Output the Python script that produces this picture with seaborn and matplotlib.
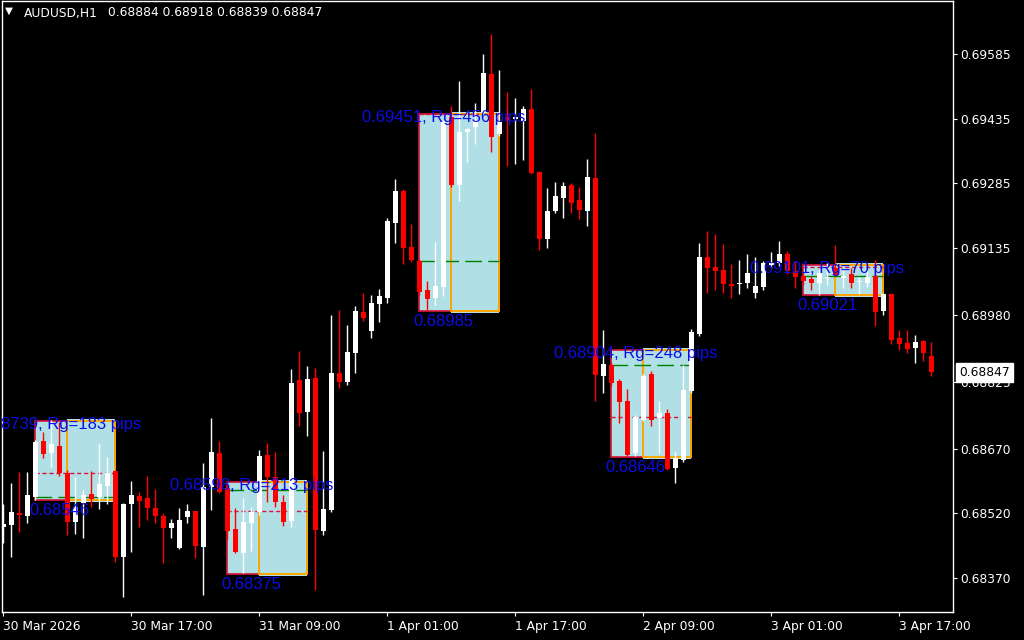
import numpy as np
import pandas as pd
import matplotlib
matplotlib.use("Agg")
import matplotlib.pyplot as plt
import matplotlib.transforms as mtransforms
from matplotlib.patches import Rectangle
import seaborn as sns

# ---------------- data ----------------
symbol_title = "AUDUSD,H1"
header_ohlc = "0.68884 0.68918 0.68839 0.68847"

opens = [0.68488, 0.68493, 0.68521, 0.68514, 0.68558, 0.68688, 0.68660, 0.68676, 0.68614, 0.68500,
         0.68544, 0.68565, 0.68558, 0.68583, 0.68618, 0.68419, 0.68542, 0.68560, 0.68556, 0.68532,
         0.68514, 0.68486, 0.68440, 0.68511, 0.68525, 0.68442, 0.68581, 0.68660, 0.68579, 0.68484,
         0.68428, 0.68498, 0.68523, 0.68655, 0.68604, 0.68546, 0.68502, 0.68829, 0.68755, 0.68834,
         0.68479, 0.68528, 0.68845, 0.68825, 0.68892, 0.68987, 0.68943, 0.69005, 0.69019, 0.69193,
         0.69267, 0.69138, 0.69105, 0.69038, 0.69019, 0.69045, 0.69439, 0.69281, 0.69404, 0.69416,
         0.69448, 0.69539, 0.69400, 0.69439, 0.69434, 0.69430, 0.69458, 0.69311, 0.69156, 0.69221,
         0.69251, 0.69281, 0.69247, 0.69221, 0.69298, 0.68838, 0.68864, 0.68827, 0.68780, 0.68660,
         0.68736, 0.68843, 0.68741, 0.68753, 0.68625, 0.68644, 0.68804, 0.68936, 0.69114, 0.69091,
         0.69084, 0.69052, 0.69051, 0.69054, 0.69031, 0.69045, 0.69096, 0.69100, 0.69121, 0.69082,
         0.69070, 0.69063, 0.69054, 0.69066, 0.69089, 0.69066, 0.69075, 0.69056, 0.69054, 0.69070,
         0.68989, 0.69029, 0.68927, 0.68915, 0.68903, 0.68920, 0.68884]
highs = [0.68542, 0.68590, 0.68616, 0.68616, 0.68690, 0.68709, 0.68736, 0.68732, 0.68620, 0.68604,
         0.68574, 0.68618, 0.68681, 0.68651, 0.68620, 0.68544, 0.68595, 0.68569, 0.68607, 0.68576,
         0.68521, 0.68507, 0.68532, 0.68542, 0.68526, 0.68637, 0.68741, 0.68688, 0.68588, 0.68532,
         0.68556, 0.68535, 0.68667, 0.68683, 0.68662, 0.68562, 0.68855, 0.68896, 0.68862, 0.68857,
         0.68665, 0.68980, 0.68991, 0.68957, 0.69001, 0.69031, 0.69026, 0.69040, 0.69205, 0.69295,
         0.69272, 0.69191, 0.69110, 0.69059, 0.69149, 0.69432, 0.69464, 0.69522, 0.69413, 0.69471,
         0.69585, 0.69631, 0.69548, 0.69497, 0.69483, 0.69464, 0.69504, 0.69314, 0.69274, 0.69288,
         0.69288, 0.69286, 0.69277, 0.69342, 0.69402, 0.68945, 0.68871, 0.68831, 0.68808, 0.68748,
         0.68842, 0.68850, 0.68780, 0.68762, 0.68662, 0.68864, 0.68947, 0.69147, 0.69175, 0.69168,
         0.69144, 0.69098, 0.69107, 0.69121, 0.69114, 0.69105, 0.69126, 0.69151, 0.69128, 0.69105,
         0.69080, 0.69070, 0.69084, 0.69100, 0.69142, 0.69084, 0.69089, 0.69068, 0.69084, 0.69107,
         0.69031, 0.69031, 0.68945, 0.68945, 0.68933, 0.68922, 0.68918]
lows = [0.68451, 0.68419, 0.68477, 0.68498, 0.68551, 0.68648, 0.68627, 0.68607, 0.68470, 0.68472,
        0.68463, 0.68535, 0.68530, 0.68542, 0.68407, 0.68326, 0.68430, 0.68488, 0.68504, 0.68498,
        0.68405, 0.68463, 0.68437, 0.68498, 0.68416, 0.68331, 0.68528, 0.68567, 0.68458, 0.68428,
        0.68382, 0.68433, 0.68516, 0.68546, 0.68535, 0.68491, 0.68488, 0.68722, 0.68699, 0.68342,
        0.68470, 0.68523, 0.68811, 0.68818, 0.68845, 0.68966, 0.68927, 0.68964, 0.69008, 0.69147,
        0.69098, 0.69103, 0.69026, 0.68991, 0.69003, 0.69024, 0.69277, 0.69244, 0.69335, 0.69376,
        0.69444, 0.69358, 0.69395, 0.69325, 0.69330, 0.69339, 0.69307, 0.69131, 0.69135, 0.69216,
        0.69205, 0.69216, 0.69202, 0.69186, 0.68780, 0.68799, 0.68815, 0.68729, 0.68653, 0.68653,
        0.68734, 0.68722, 0.68660, 0.68620, 0.68590, 0.68639, 0.68799, 0.68931, 0.69031, 0.69038,
        0.69031, 0.69019, 0.69029, 0.69042, 0.69019, 0.69038, 0.69089, 0.69094, 0.69075, 0.69042,
        0.69049, 0.69038, 0.69026, 0.69049, 0.69070, 0.69042, 0.69042, 0.69029, 0.69045, 0.68954,
        0.68980, 0.68913, 0.68899, 0.68892, 0.68869, 0.68873, 0.68839]
closes = [0.68495, 0.68523, 0.68516, 0.68562, 0.68685, 0.68658, 0.68681, 0.68614, 0.68500, 0.68535,
          0.68562, 0.68553, 0.68588, 0.68614, 0.68419, 0.68542, 0.68562, 0.68549, 0.68532, 0.68514,
          0.68486, 0.68498, 0.68504, 0.68525, 0.68444, 0.68581, 0.68662, 0.68569, 0.68479, 0.68430,
          0.68500, 0.68523, 0.68653, 0.68604, 0.68546, 0.68500, 0.68822, 0.68753, 0.68831, 0.68481,
          0.68530, 0.68845, 0.68825, 0.68894, 0.68989, 0.68973, 0.69008, 0.69024, 0.69198, 0.69267,
          0.69135, 0.69107, 0.69033, 0.69017, 0.69047, 0.69427, 0.69281, 0.69404, 0.69411, 0.69432,
          0.69541, 0.69393, 0.69427, 0.69432, 0.69439, 0.69458, 0.69309, 0.69156, 0.69221, 0.69256,
          0.69279, 0.69240, 0.69223, 0.69300, 0.68841, 0.68866, 0.68822, 0.68778, 0.68655, 0.68743,
          0.68838, 0.68736, 0.68753, 0.68623, 0.68648, 0.68806, 0.68940, 0.69114, 0.69089, 0.69082,
          0.69052, 0.69047, 0.69054, 0.69077, 0.69047, 0.69100, 0.69100, 0.69121, 0.69082, 0.69068,
          0.69059, 0.69054, 0.69077, 0.69068, 0.69073, 0.69070, 0.69054, 0.69059, 0.69068, 0.68987,
          0.69029, 0.68922, 0.68913, 0.68901, 0.68917, 0.68892, 0.68847]

x_tick_bars = [0, 16, 32, 48, 64, 80, 96, 112]
x_tick_labels = ["30 Mar 2026", "30 Mar 17:00", "31 Mar 09:00", "1 Apr 01:00",
                 "1 Apr 17:00", "2 Apr 09:00", "3 Apr 01:00", "3 Apr 17:00"]
y_ticks = [0.69585, 0.69435, 0.69285, 0.69135, 0.68980, 0.68825, 0.68670, 0.68520, 0.68370]
y_tick_labels = ["0.69585", "0.69435", "0.69285", "0.69135", "0.68980",
                 "0.68825", "0.68670", "0.68520", "0.68370"]

box_start = [4, 28, 52, 76, 100]
box_high = [0.68739, 0.68598, 0.69451, 0.68904, 0.69101]
box_low = [0.68546, 0.68375, 0.68985, 0.68646, 0.69021]
box_red_level = [0.68613, 0.68525, 0.69445, 0.68743, 0.69091]
box_green_level = [0.68558, 0.68574, 0.69105, 0.68864, 0.69070]
box_top_labels = ["0.68739, Rg=183 pips", "0.68598, Rg=213 pips", "0.69451, Rg=456 pips",
                  "0.68904, Rg=248 pips", "0.69101, Rg=70 pips"]
box_bottom_labels = ["0.68546", "0.68375", "0.68985", "0.68646", "0.69021"]
last_price = 0.68847
last_price_label = "0.68847"

# ---------------- style ----------------
sns.set_theme(style="dark", rc={
    "axes.facecolor": "black", "figure.facecolor": "black",
    "axes.edgecolor": "white", "axes.grid": False,
    "xtick.color": "white", "ytick.color": "white", "text.color": "white",
})
plt.rcParams["font.family"] = ["DejaVu Sans"]

LIGHTBLUE = "#b0e0e6"
BLUE = "#0c0ce8"
RED = "#ff0000"

df = pd.DataFrame({"bar": np.arange(len(opens)), "open": opens, "high": highs,
                   "low": lows, "close": closes})

fig = plt.figure(figsize=(10.24, 6.4), dpi=100, facecolor="black")
ax = fig.add_axes([2 / 1024, 28 / 640, 951 / 1024, 611 / 640])
ax.set_facecolor("black")

# boxes
inset = 0.00005
for k in range(len(box_start)):
    s = box_start[k]
    hi, lo = box_high[k], box_low[k]
    ax.add_patch(Rectangle((s, lo + inset), 6, hi - lo - 2 * inset, fc=LIGHTBLUE,
                           ec="#dc143c", lw=1.2, zorder=1))
    ax.add_patch(Rectangle((s + 4, lo), 6, hi - lo, fc=LIGHTBLUE, ec="none", zorder=1.5))
    ax.add_patch(Rectangle((s + 4, lo + inset), 6, hi - lo - 2 * inset, fc="none",
                           ec="#ffa500", lw=1.4, zorder=2))
    ax.hlines(box_red_level[k], s, s + 10, colors="#dc143c", linestyles=(0, (3, 2)),
              lw=1.0, zorder=3)
    ax.hlines(box_green_level[k], s, s + 10, colors="#008000", linestyles=(0, (12, 4.5)),
              lw=1.0, zorder=3)

# candles
up = df["close"] >= df["open"]
colors = np.where(up, "white", RED)
ax.vlines(df["bar"], df["low"], df["high"], colors=colors, lw=1.0, zorder=4)
body_bottom = np.minimum(df["open"], df["close"])
body_h = np.maximum((df["close"] - df["open"]).abs(), 0.00002)
ax.bar(df["bar"], body_h, bottom=body_bottom, width=0.6, color=colors, linewidth=0, zorder=5)

# box labels
off_top = mtransforms.offset_copy(ax.transData, fig=fig, x=0, y=-5.5, units="dots")
off_bot = mtransforms.offset_copy(ax.transData, fig=fig, x=0, y=-8.5, units="dots")
for k in range(len(box_start)):
    ax.text(box_start[k] + 3, box_high[k], box_top_labels[k], transform=off_top,
            ha="center", va="center", color=BLUE, fontsize=12, family="Liberation Sans",
            clip_on=True, zorder=6)
    ax.text(box_start[k] + 3, box_low[k], box_bottom_labels[k], transform=off_bot,
            ha="center", va="center", color=BLUE, fontsize=12, family="Liberation Sans",
            clip_on=True, zorder=6)

# axes
ax.set_xlim(-0.1625, 118.71)
ax.set_ylim(0.682912, 0.697079)
for sp in ax.spines.values():
    sp.set_color("white")
    sp.set_linewidth(1.0)
ax.yaxis.tick_right()
ax.set_yticks(y_ticks)
ax.set_yticklabels(y_tick_labels)
ax.set_xticks(x_tick_bars)
ax.set_xticklabels(x_tick_labels)
for lbl in ax.get_xticklabels():
    lbl.set_ha("left")
ax.tick_params(axis="y", right=True, left=False, labelright=True, labelleft=False,
               length=3, width=0.8, color="white", labelcolor="white", labelsize=8.8, pad=2.5)
ax.tick_params(axis="x", bottom=True, length=3, width=0.8, color="white",
               labelcolor="white", labelsize=8.8, pad=2.5)
ax.grid(False)

# current price label
trans = mtransforms.blended_transform_factory(ax.transAxes, ax.transData)
ax.text(1.0 + 6 / 951, last_price, last_price_label, transform=trans, ha="left", va="center",
        color="black", fontsize=8.8,
        bbox=dict(boxstyle="square,pad=0.25", fc="white", ec="white"),
        clip_on=False, zorder=10)

# header
fig.text(5 / 1024, 1 - 11 / 640, "\u25bc", color="white", fontsize=7.5, va="center")
fig.text(24 / 1024, 1 - 13 / 640, symbol_title, color="white", fontsize=8.8, va="center")
fig.text(108 / 1024, 1 - 13 / 640, header_ohlc, color="white", fontsize=8.8, va="center")

fig.savefig("out.png", dpi=100, facecolor="black")
